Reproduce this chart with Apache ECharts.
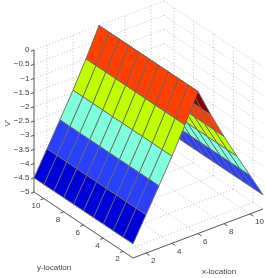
<!DOCTYPE html>
<html><head><meta charset="utf-8">
<style>html,body{margin:0;padding:0;background:#fff}#c{width:266px;height:278px;filter:blur(0.3px)}</style>
<script src="https://cdn.jsdelivr.net/npm/echarts@6/dist/echarts.min.js"></script>
</head><body><div id="c"></div>
<script>
// --- data ---
const xLocations = [1, 2, 3, 4, 5, 6, 7, 8, 9, 10, 11];
const yLocations = [1, 2, 3, 4, 5, 6, 7, 8, 9, 10, 11];
const vProfile = [-4.5, -3.65, -2.8, -1.93, -1.0, 0, -1.0, -1.93, -2.8, -3.65, -4.5];
const xTicks = [2, 4, 6, 8, 10];
const yTicks = [2, 4, 6, 8, 10];
const zTicks = [0, -0.5, -1, -1.5, -2, -2.5, -3, -3.5, -4, -4.5, -5];
const zTickLabels = ['0', '\u22120.5', '\u22121', '\u22121.5', '\u22122', '\u22122.5', '\u22123', '\u22123.5', '\u22124', '\u22124.5', '\u22125'];
const xLabel = 'x-location', yLabel = 'y-location', zLabel = "V'";
const bandStops = [-4.5, -3.65, -2.8, -1.93, -1.0, 0];
const bandColors = ['#0000d8', '#2a40ff', '#80ffdc', '#bfff00', '#ff4000', '#800000'];

// --- view (orthographic projection of the 3D box onto the hidden 2D axes) ---
const xMin = 1, xMax = 11, yMin = 1, yMax = 11, zMin = -5, zMax = 0;
const ORIGIN = [133, 258], XV = [13, -4.9], YV = [-9.9, -6.6], ZV = -28.4;
const project = (x, y, z) => [
  ORIGIN[0] + (x - xMin) * XV[0] + (y - yMin) * YV[0],
  ORIGIN[1] + (x - xMin) * XV[1] + (y - yMin) * YV[1] + (z - zMin) * ZV
];

// --- build marks ---
const gridSegs = [];
zTicks.forEach(z => {
  gridSegs.push([xMin, yMax, z, xMax, yMax, z]);
  gridSegs.push([xMax, yMax, z, xMax, yMin, z]);
});
xTicks.forEach(x => {
  gridSegs.push([x, yMax, zMin, x, yMax, zMax]);
  gridSegs.push([x, yMin, zMin, x, yMax, zMin]);
});
yTicks.forEach(y => {
  gridSegs.push([xMax, y, zMin, xMax, y, zMax]);
  gridSegs.push([xMin, y, zMin, xMax, y, zMin]);
});

const axisSegs = [
  [xMin, yMax, zMax, xMin, yMax, zMin],
  [xMin, yMax, zMin, xMin, yMin, zMin],
  [xMin, yMin, zMin, xMax, yMin, zMin]
];
zTicks.forEach(z => axisSegs.push([xMin, yMax, z, xMin - 0.25, yMax, z]));
yTicks.forEach(y => axisSegs.push([xMin, y, zMin, xMin - 0.25, y, zMin]));
xTicks.forEach(x => axisSegs.push([x, yMin, zMin, x, yMin - 0.35, zMin]));

function bandIndex(v) {
  let best = 0;
  bandStops.forEach((s, k) => { if (Math.abs(s - v) < Math.abs(bandStops[best] - v)) best = k; });
  return best;
}
const cells = [];
const pushCells = (from, to) => {
  for (let i = from; i < to; i++) for (let j = 0; j < yLocations.length - 1; j++) {
    cells.push([xLocations[i], yLocations[j], xLocations[i + 1], yLocations[j + 1],
      vProfile[i], vProfile[i + 1], bandIndex(vProfile[i])]);
  }
};
pushCells(5, 10);  // far slope, seen from below and partly hidden
pushCells(0, 5);   // near slope

const FONT = '8px "Liberation Sans", Arial, sans-serif';
const TEXT = '#3c3c3c';
const labels = [];
zTicks.forEach((z, k) => labels.push([xMin, yMax, z, zTickLabels[k], 'right', -4.5, 0, 0]));
yTicks.forEach(y => labels.push([xMin, y, zMin, String(y), 'right', -3.5, 7.5, 0]));
xTicks.forEach(x => labels.push([x, yMin, zMin, String(x), 'left', 5, 8, 0]));

const segRender = style => (params, api) => {
  const a = api.coord(project(api.value(0), api.value(1), api.value(2)));
  const b = api.coord(project(api.value(3), api.value(4), api.value(5)));
  return { type: 'line', shape: { x1: a[0], y1: a[1], x2: b[0], y2: b[1] }, style };
};

const chart = echarts.init(document.getElementById('c'), null, { renderer: 'canvas' });
chart.setOption({
  animation: false,
  backgroundColor: '#fff',
  grid: { left: 0, right: 0, top: 0, bottom: 0 },
  xAxis: { type: 'value', min: 0, max: 266, show: false },
  yAxis: { type: 'value', min: 0, max: 278, inverse: true, show: false },
  series: [
    { type: 'custom', silent: true, clip: false, coordinateSystem: 'cartesian2d', z: 1,
      data: gridSegs, encode: { x: 0, y: 1 },
      renderItem: segRender({ stroke: '#c2c2c2', lineWidth: 1, lineDash: [1, 2.2], fill: null }) },
    { type: 'custom', silent: true, clip: false, coordinateSystem: 'cartesian2d', z: 2,
      data: axisSegs, encode: { x: 0, y: 1 },
      renderItem: segRender({ stroke: '#555', lineWidth: 1, fill: null }) },
    { type: 'custom', silent: true, clip: false, coordinateSystem: 'cartesian2d', z: 3,
      data: cells, encode: { x: 0, y: 1 },
      renderItem: (params, api) => {
        const x0 = api.value(0), y0 = api.value(1), x1 = api.value(2), y1 = api.value(3);
        const v0 = api.value(4), v1 = api.value(5);
        const pts = [[x0, y0, v0], [x1, y0, v1], [x1, y1, v1], [x0, y1, v0]]
          .map(p => api.coord(project(p[0], p[1], p[2])));
        return { type: 'polygon', shape: { points: pts },
          style: { fill: bandColors[api.value(6)], stroke: '#666', lineWidth: 0.9 } };
      } },
    { type: 'custom', silent: true, clip: false, coordinateSystem: 'cartesian2d', z: 4,
      data: labels, encode: { x: 0, y: 1 },
      renderItem: (params, api) => {
        const d = labels[params.dataIndex];
        const p = api.coord(project(d[0], d[1], d[2]));
        return { type: 'text', x: p[0] + d[5], y: p[1] + d[6],
          style: { text: d[3], font: FONT, fill: TEXT, textAlign: d[4], textVerticalAlign: 'middle' } };
      } }
  ],
  graphic: [
    { type: 'text', x: 54, y: 268, z: 5, silent: true,
      style: { text: yLabel, font: FONT, fill: TEXT, textAlign: 'center', textVerticalAlign: 'middle' } },
    { type: 'text', x: 219, y: 272, z: 5, silent: true,
      style: { text: xLabel, font: FONT, fill: TEXT, textAlign: 'center', textVerticalAlign: 'middle' } },
    { type: 'text', x: 8, y: 123, rotation: Math.PI / 2, z: 5, silent: true,
      style: { text: zLabel, font: FONT, fill: TEXT, textAlign: 'center', textVerticalAlign: 'middle' } }
  ]
});
</script></body></html>
